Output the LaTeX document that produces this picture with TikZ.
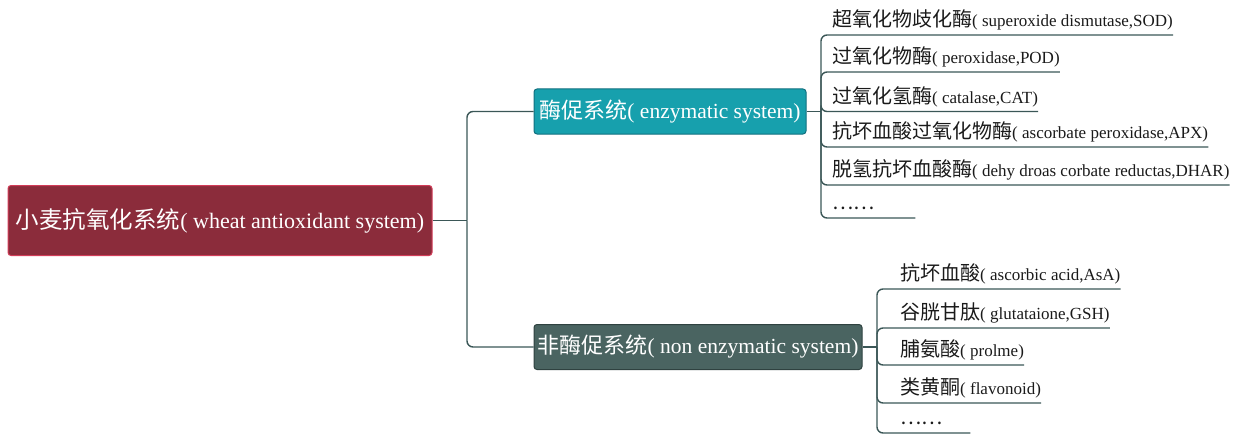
\documentclass[tikz,border=0pt]{standalone}
\usepackage{fontspec}
\setmainfont{Liberation Serif}
\newfontfamily\cjk{Noto Sans CJK SC}
\def\zhsize{}
\newcommand\zh[1]{{\cjk\zhsize #1}}

\definecolor{rootcol}{HTML}{8B2C3B}
\definecolor{rootedge}{HTML}{D23C58}
\definecolor{enzcol}{HTML}{17A0AD}
\definecolor{enzedge}{HTML}{11707F}
\definecolor{noncol}{HTML}{4A6461}
\definecolor{nonedge}{HTML}{2F4240}
\definecolor{linecol}{HTML}{3B5757}
\definecolor{textcol}{HTML}{1A1A1A}

\tikzset{
  line/.style={draw=linecol, line width=1.4pt, rounded corners=6pt},
  rootbox/.style={rectangle, rounded corners=3pt, fill=rootcol, draw=rootedge, line width=1pt,
    text=white, inner sep=0pt, minimum width=424pt, minimum height=70pt,
    font=\fontsize{22}{26}\selectfont\def\zhsize{\fontsize{23.5}{28}\selectfont}},
  subbox/.style={rectangle, rounded corners=3pt, line width=1pt, text=white, inner sep=0pt,
    minimum height=45pt,
    font=\fontsize{21.5}{26}\selectfont\def\zhsize{\fontsize{22}{26}\selectfont}},
  leaf/.style={anchor=south west, inner sep=0pt, text depth=8pt, text=textcol,
    font=\fontsize{17}{20}\selectfont\def\zhsize{\fontsize{20}{24}\selectfont}},
}

\begin{document}
\begin{tikzpicture}[x=1pt, y=-1pt]
\useasboundingbox (0,0) rectangle (1243,436);

% 根节点
\node[rootbox] (root) at (220,220.5) {\zh{小麦抗氧化系统}( wheat antioxidant system)};

% 两个分支
\node[subbox, fill=enzcol, draw=enzedge, minimum width=272pt] (enz) at (670,111.5)
  {\zh{酶促系统}( enzymatic system)};
\node[subbox, fill=noncol, draw=nonedge, minimum width=328pt] (non) at (698,347)
  {\zh{非酶促系统}( non enzymatic system)};

\coordinate (trunk) at (467,220.5);
\draw[line] (root.east) -- (trunk);
\draw[line] (trunk) |- (enz.west);
\draw[line] (trunk) |- (non.west);

% 酶促系统
\coordinate (eb) at (821,111.5);
\draw[line] (enz.east) -- (eb);
\foreach \i/\y/\zhtext/\entext in {
    1/35/{超氧化物歧化酶}/{superoxide dismutase,SOD},
    2/72/{过氧化物酶}/{peroxidase,POD},
    3/111.5/{过氧化氢酶}/{catalase,CAT},
    4/147/{抗坏血酸过氧化物酶}/{ascorbate peroxidase,APX},
    5/185/{脱氢抗坏血酸酶}/{dehy droas corbate reductas,DHAR}} {
  \node[leaf] (e\i) at (832,\y) {\zh{\zhtext}( \entext)};
  \draw[line] (eb) |- (e\i.south east);
}
\node[leaf, text width=83pt] (e6) at (832,218) {\zh{……}};
\draw[line] (eb) |- (e6.south east);

% 非酶促系统
\coordinate (nb) at (877,347);
\draw[line] (non.east) -- (nb);
\foreach \i/\y/\zhtext/\entext in {
    1/289/{抗坏血酸}/{ascorbic acid,AsA},
    2/328/{谷胱甘肽}/{glutataione,GSH},
    3/365/{脯氨酸}/{prolme},
    4/403/{类黄酮}/{flavonoid}} {
  \node[leaf] (n\i) at (900,\y) {\zh{\zhtext}( \entext)};
  \draw[line] (nb) |- (n\i.south east);
}
\node[leaf, text width=70pt] (n5) at (900,433) {\zh{……}};
\draw[line] (nb) |- (n5.south east);

\end{tikzpicture}
\end{document}
